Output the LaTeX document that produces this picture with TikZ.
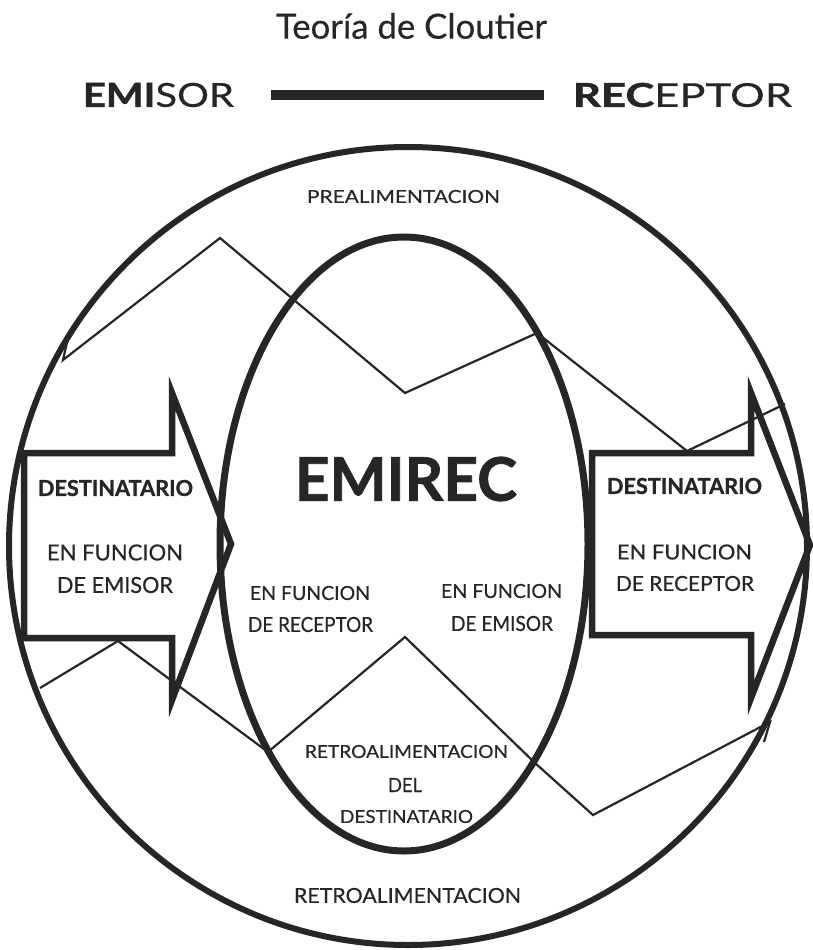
\documentclass[tikz,border=0pt]{standalone}
\usepackage{fontspec}
\setmainfont{Lato}[FakeBold=0.4]
\newfontfamily\heavyfont{Lato Bold}[FakeBold=1.2]
\usepackage{graphicx}
\definecolor{inkc}{HTML}{262626}
\newcommand{\fitbox}[3]{\resizebox{#1pt}{#2pt}{#3}}
\begin{document}
\begin{tikzpicture}[x=1pt,y=-1pt,
  heavy/.style={draw=inkc, line width=6.5pt, line join=miter, miter limit=20},
  ring/.style={draw=inkc, line width=6pt},
  light/.style={draw=inkc, line width=2.2pt, line join=miter},
  lbl/.style={text=inkc, inner sep=0pt, anchor=center},
]
\useasboundingbox (0,0) rectangle (812,950);
\fill[white] (0,0) rectangle (812,950);

% header
\node[lbl] (title) at (411.5,26) {\resizebox{271pt}{!}{Teoría de Cloutier}};
\node[lbl] (emisor) at (158.5,95) {\fitbox{151}{24}{{\heavyfont EMI}SOR}};
\node[lbl] (receptor) at (682.5,95) {\fitbox{219}{24}{{\heavyfont REC}EPTOR}};
\fill[inkc] (271,90) rectangle (544,100);
\coordinate (barL) at (271,95);
\coordinate (barR) at (544,95);

% outer circle and EMIREC ellipse
\draw[ring] (408,546) circle [radius=399];
\draw[ring, line width=7pt] (404,544) ellipse [x radius=184, y radius=307];

% arrows
\draw[heavy] (24,453) -- (172,453) -- (172,393) -- (231,544) -- (172,700) -- (172,638) -- (24,638) -- cycle;
\draw[heavy] (592,453) -- (751,453) -- (751,393) -- (810,545) -- (751,698) -- (751,635) -- (592,635) -- cycle;

% prealimentacion zigzag
\draw[light] (68,338) -- (63,360) -- (220,238) -- (405,393) -- (537,333) -- (687,451) -- (785,404);
% retroalimentacion zigzag
\draw[light] (40,688) -- (118,641) -- (268,752) -- (405,637) -- (535,763) -- (593,815) -- (770,722) -- (764,742);

% labels
\node[lbl] (prealim) at (403.5,196.5) {\fitbox{193}{13}{PREALIMENTACION}};
\node[lbl] (emirec) at (406,479) {\fitbox{222}{44}{\heavyfont EMIREC}};

\node[lbl] (destL) at (115.5,488) {\fitbox{155}{16}{\heavyfont DESTINATARIO}};
\node[lbl] (fL1) at (115,552.5) {\fitbox{136}{16}{EN FUNCION}};
\node[lbl] (fL2) at (115,585) {\fitbox{116}{16}{DE EMISOR}};

\node[lbl] (iL1) at (310,593) {\fitbox{120}{14}{EN FUNCION}};
\node[lbl] (iL2) at (310.5,624.5) {\fitbox{125}{15}{DE RECEPTOR}};
\node[lbl] (iR1) at (501.5,591) {\fitbox{121}{14}{EN FUNCION}};
\node[lbl] (iR2) at (502,623.5) {\fitbox{102}{15}{DE EMISOR}};

\node[lbl] (destR) at (684.5,486) {\fitbox{155}{16}{\heavyfont DESTINATARIO}};
\node[lbl] (fR1) at (684.5,552) {\fitbox{135}{15}{EN FUNCION}};
\node[lbl] (fR2) at (685,583.5) {\fitbox{138}{15}{DE RECEPTOR}};

\node[lbl] (rd1) at (406.5,751.5) {\fitbox{203}{13}{RETROALIMENTACION}};
\node[lbl] (rd2) at (405,785) {\fitbox{34}{14}{DEL}};
\node[lbl] (rd3) at (406.5,816.5) {\fitbox{133}{13}{DESTINATARIO}};

\node[lbl] (retro) at (407.5,895.5) {\fitbox{227}{15}{RETROALIMENTACION}};
\end{tikzpicture}
\end{document}
